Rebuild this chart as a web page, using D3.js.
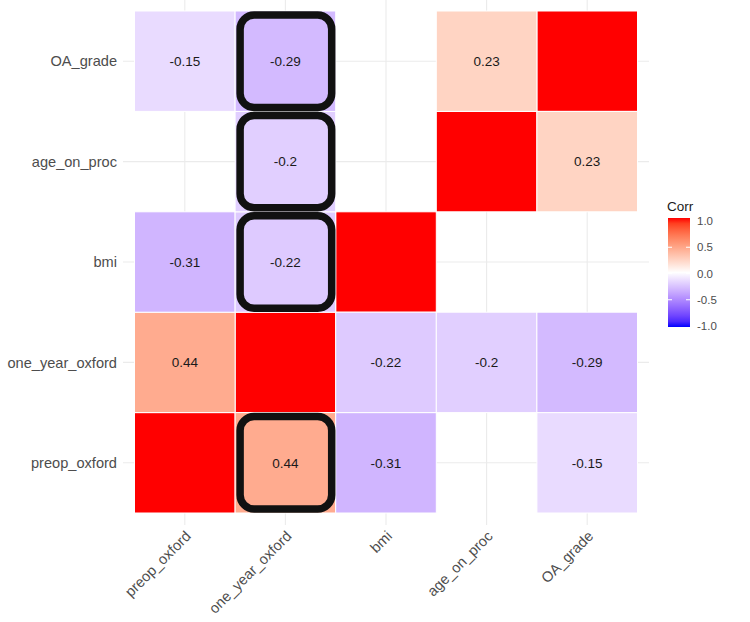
<!DOCTYPE html>
<html><head><meta charset="utf-8">
<script src="https://cdn.jsdelivr.net/npm/d3@7"></script>
<style>body{margin:0;background:#fff}svg{display:block;font-family:"Liberation Sans",Arial,sans-serif}</style>
</head><body><svg id="c" width="750" height="622"></svg>
<script>
// Variables (x order left->right; y order bottom->top)
const vars = ["preop_oxford","one_year_oxford","bmi","age_on_proc","OA_grade"];
// Pairwise correlations (null = not significant -> blank)
const pairA = ["preop_oxford","preop_oxford","preop_oxford","preop_oxford","one_year_oxford","one_year_oxford","one_year_oxford","bmi","bmi","age_on_proc"];
const pairB = ["one_year_oxford","bmi","age_on_proc","OA_grade","bmi","age_on_proc","OA_grade","age_on_proc","OA_grade","OA_grade"];
const pairR = [0.44,-0.31,null,-0.15,-0.22,-0.2,-0.29,null,null,0.23];
// Hand-drawn highlight boxes (column, row)
const hlCol = ["one_year_oxford","one_year_oxford","one_year_oxford","one_year_oxford"];
const hlRow = ["OA_grade","age_on_proc","bmi","preop_oxford"];
const legendTicks = [1.0,0.5,0.0,-0.5,-1.0];

const svg = d3.select("#c");
const x = d3.scaleBand().domain(vars).range([134.5,637.5]).padding(0);
const y = d3.scaleBand().domain(vars).range([513,11]).padding(0);
const color = d3.scaleLinear().domain([-1,0,1]).range(["#0000FF","#FFFFFF","#FF0000"]).interpolate(d3.interpolateLab);

// cells
const cells = [];
vars.forEach(v => cells.push({x:v,y:v,r:1,label:false}));
pairA.forEach((a,i)=>{
  if(pairR[i]===null) return;
  cells.push({x:a,y:pairB[i],r:pairR[i],label:true});
  cells.push({x:pairB[i],y:a,r:pairR[i],label:true});
});

// grid lines
const g = svg.append("g");
vars.forEach(v=>{
  const cx = x(v)+x.bandwidth()/2, cy = y(v)+y.bandwidth()/2;
  g.append("line").attr("x1",cx).attr("x2",cx).attr("y1",0).attr("y2",525).attr("stroke","#ebebeb").attr("stroke-width",1.1);
  g.append("line").attr("x1",123).attr("x2",649).attr("y1",cy).attr("y2",cy).attr("stroke","#ebebeb").attr("stroke-width",1.1);
});

svg.append("g").selectAll("rect").data(cells).join("rect")
  .attr("x",d=>x(d.x)).attr("y",d=>y(d.y))
  .attr("width",x.bandwidth()).attr("height",y.bandwidth())
  .attr("fill",d=>color(d.r)).attr("stroke","#fff").attr("stroke-width",1);

svg.append("g").selectAll("text").data(cells.filter(d=>d.label)).join("text")
  .attr("x",d=>x(d.x)+x.bandwidth()/2).attr("y",d=>y(d.y)+y.bandwidth()/2)
  .attr("text-anchor","middle").attr("dy","0.36em")
  .attr("font-size",13.5).attr("fill","#1a1a1a")
  .text(d=>String(d.r));

// highlight boxes
svg.append("g").selectAll("rect").data(hlCol.map((c,i)=>({c,r:hlRow[i]}))).join("rect")
  .attr("x",d=>x(d.c)+5).attr("y",d=>y(d.r)+4)
  .attr("width",x.bandwidth()-9).attr("height",y.bandwidth()-8)
  .attr("rx",14).attr("ry",14)
  .attr("fill","none").attr("stroke","#111").attr("stroke-width",7.5);

// y axis labels
svg.append("g").selectAll("text").data(vars).join("text")
  .attr("x",117).attr("y",d=>y(d)+y.bandwidth()/2).attr("dy","0.36em")
  .attr("text-anchor","end").attr("font-size",14.6).attr("fill","#4d4d4d").text(d=>d);

// x axis labels
svg.append("g").selectAll("text").data(vars).join("text")
  .attr("transform",d=>`translate(${x(d)+x.bandwidth()/2+7},${537}) rotate(-45)`)
  .attr("text-anchor","end").attr("font-size",14.6).attr("fill","#4d4d4d").text(d=>d);

// legend
const lg = svg.append("g");
const defs = svg.append("defs");
const grad = defs.append("linearGradient").attr("id","lgd").attr("x1",0).attr("x2",0).attr("y1",0).attr("y2",1);
d3.range(0,1.0001,0.05).forEach(t=>grad.append("stop").attr("offset",t).attr("stop-color",color(1-2*t)));
const ly = d3.scaleLinear().domain([-1,1]).range([326,221]);
lg.append("text").attr("x",667).attr("y",211).attr("font-size",13.5).attr("fill","#1a1a1a").text("Corr");
lg.append("rect").attr("x",668).attr("y",218).attr("width",22).attr("height",109).attr("fill","url(#lgd)");
legendTicks.forEach(t=>{
  if(Math.abs(t)===0.5||t===0){
    lg.append("line").attr("x1",668).attr("x2",672).attr("y1",ly(t)).attr("y2",ly(t)).attr("stroke","#fff");
    lg.append("line").attr("x1",686).attr("x2",690).attr("y1",ly(t)).attr("y2",ly(t)).attr("stroke","#fff");
  }
  lg.append("text").attr("x",697).attr("y",ly(t)).attr("dy","0.36em").attr("font-size",11.5).attr("fill","#4d4d4d").text(d3.format(".1f")(t).replace("−","-"));
});
</script></body></html>
